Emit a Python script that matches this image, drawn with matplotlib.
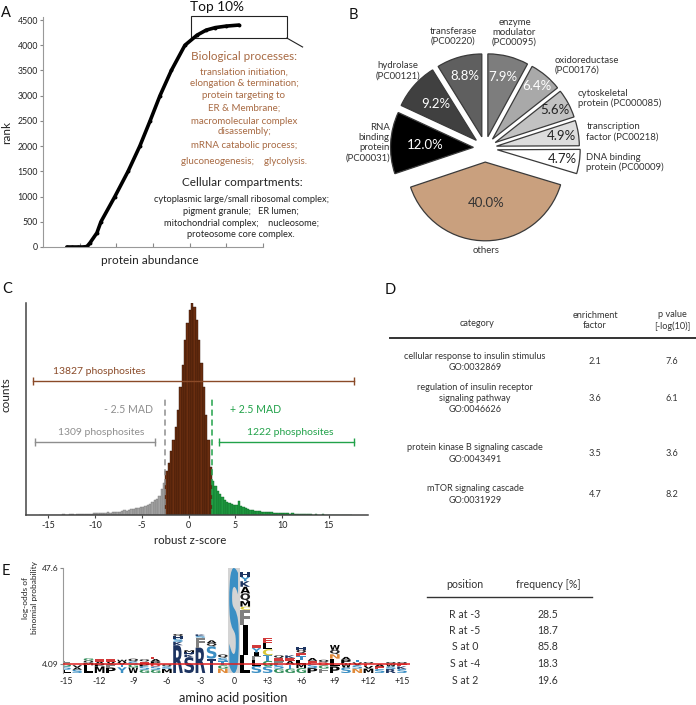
import matplotlib
matplotlib.use("Agg")
import matplotlib.pyplot as plt
import numpy as np
from matplotlib.textpath import TextPath
from matplotlib.patches import PathPatch, Rectangle
from matplotlib.font_manager import FontProperties
from matplotlib.transforms import Affine2D
from matplotlib.lines import Line2D

plt.rcParams['font.family'] = ['Lato', 'DejaVu Sans']
plt.rcParams['axes.unicode_minus'] = False

# ---------------- data ----------------
# A: rank vs protein abundance (arbitrary abundance units)
abund_rank = [0, 0, 0, 0, 10, 80, 280, 500, 1000, 1500, 2000, 2500, 3000, 3500, 4000, 4200, 4300, 4350, 4380, 4400]
abund_value = [0.65, 0.8, 0.95, 1.1, 1.2, 1.28, 1.47, 1.58, 1.96, 2.32, 2.64, 2.92, 3.19, 3.5, 3.87, 4.2, 4.45, 4.7, 5.0, 5.34]

bio_lines = ["translation initiation,", "elongation & termination;", "protein targeting to",
             "ER & Membrane;", "macromolecular complex", "disassembly;",
             "mRNA catabolic process;", "gluconeogenesis;    glycolysis."]
cell_lines = ["cytoplasmic large/small ribosomal complex;", "pigment granule;   ER lumen;",
              "mitochondrial complex;    nucleosome;", "proteosome core complex."]

# B: protein classes (clockwise from top)
pie_labels = ["enzyme\nmodulator\n(PC00095)", "oxidoreductase\n(PC00176)", "cytoskeletal\nprotein (PC000085)",
              "transcription\nfactor (PC00218)", "DNA binding\nprotein (PC00009)", "others",
              "RNA\nbinding\nprotein\n(PC00031)", "hydrolase\n(PC00121)", "transferase\n(PC00220)"]
pie_pct = [7.9, 6.4, 5.6, 4.9, 4.7, 40.0, 12.0, 9.2, 8.8]

# C: robust z-score histogram (bin width 0.25)
gray_start = -16.0
gray_counts = [5, 0, 5, 0, 5, 5, 0, 5, 5, 5, 10, 5, 5, 10, 10, 5, 10, 10, 10, 15, 10, 15, 15, 20,
               20, 20, 25, 20, 25, 30, 25, 30, 30, 35, 30, 40, 50, 45, 50, 60, 60, 70, 75, 80,
               85, 90, 100, 115, 135, 150, 165, 190, 260, 320]
brown_start = -2.5
brown_counts = [440, 520, 640, 750, 880, 1050, 1280, 1500, 1750, 1920, 2050, 2120, 2080, 1950,
                1750, 1520, 1280, 1000, 750, 480]
green_start = 2.5
green_counts = [340, 290, 240, 210, 180, 150, 130, 120, 110, 100, 100, 140, 90, 80, 70, 60, 55, 50,
                45, 40, 40, 35, 35, 30, 30, 30, 25, 25, 20, 25, 20, 20, 20, 15, 20, 15, 15, 10,
                15, 10, 10, 10, 10, 5, 10, 5, 5, 10, 5, 5, 5, 5, 5, 0, 5, 0, 5, 0, 5, 0]
bin_w = 0.25
mad_low, mad_high = -2.55, 2.5
all_range = (-16.7, 17.7)
low_range = (-16.4, -3.55)
high_range = (3.3, 17.7)

# D: GO enrichment table
go_terms = ["cellular response to insulin stimulus\nGO:0032869",
            "regulation of insulin receptor\nsignaling pathway\nGO:0046626",
            "protein kinase B signaling cascade\nGO:0043491",
            "mTOR signaling cascade\nGO:0031929"]
go_enrich = ["2.1", "3.6", "3.5", "4.7"]
go_pval = ["7.6", "6.1", "3.6", "8.2"]

# E: pLogo stacks, bottom to top (letters, heights)
logo_pos = list(range(-15, 16))
logo_letters = ["LSGF", "SAV", "LMQG", "MPAE", "PFVE", "YTVW", "WGSQ", "GSPEQ", "GSDPAE", "MSQ",
                "RKSHQ", "SKHM", "RFSK", "TSQA", "NGTSQ", "S",
                "LIFCMQAKYH", "SLFIYE", "SGTCLE", "GSFEQ", "GTAEK", "GMLTEQH", "PSEA", "FGDQ",
                "PLNQW", "SWPA", "NSVT", "MVEQ", "SEA", "RSWQ", "SKEQ"]
logo_heights = [[1.5, 1.5, 1.2, 1.3], [1.5, 1.0, 1.0], [3.5, 1.2, 1.0, 1.0], [3.0, 1.2, 1.0, 1.0],
                [2.5, 1.5, 1.2, 1.0], [2.6, 1.2, 1.2, 1.0], [2.5, 1.5, 1.2, 1.3],
                [1.5, 1.5, 1.2, 1.0, 1.0], [1.5, 1.5, 1.2, 1.1, 1.0, 1.0], [1.8, 1.2, 1.0],
                [12.6, 1.5, 1.4, 1.2, 1.0], [7.2, 1.2, 1.0, 0.9], [11.5, 4.5, 0.8, 0.7],
                [6.5, 5.6, 1.5, 1.2], [2.0, 1.5, 1.8, 1.6, 1.5], [47.6],
                [8.0, 13.6, 7.0, 1.5, 2.5, 3.5, 3.0, 2.5, 2.0, 2.0], [3.3, 2.7, 1.5, 1.8, 2.0, 1.4],
                [3.0, 2.5, 2.5, 2.8, 2.8, 2.3], [2.0, 1.8, 1.6, 1.4, 1.2], [2.0, 1.8, 1.6, 1.4, 1.2],
                [2.2, 2.0, 1.8, 1.6, 1.5, 1.4, 1.3], [2.2, 1.8, 1.5, 1.3], [2.0, 1.5, 1.3, 1.2],
                [3.0, 3.5, 2.0, 2.0, 2.2], [2.5, 2.0, 1.5, 1.3], [2.0, 1.5, 1.3, 1.2],
                [2.0, 1.2, 1.0, 0.8], [1.8, 1.2, 1.0], [1.8, 1.2, 1.0, 1.0], [1.8, 1.2, 1.0, 1.0]]
logo_ymax = 47.6
logo_threshold = 4.09
x_tick_pos = [-15, -12, -9, -6, -3, 0, 3, 6, 9, 12, 15]
x_tick_lab = ["-15", "-12", "-9", "-6", "-3", "0", "+3", "+6", "+9", "+12", "+15"]

motif_pos = ["R at -3", "R at -5", "S at 0", "S at -4", "S at 2"]
motif_freq = ["28.5", "18.7", "85.8", "18.3", "19.6"]

# ---------------- figure ----------------
W, H = 696, 705
fig = plt.figure(figsize=(W / 100, H / 100), dpi=100)


def px_axes(l, t, r, b):
    return fig.add_axes([l / W, 1 - b / H, (r - l) / W, (b - t) / H])


def ftext(x, y, s, **kw):
    kw.setdefault('ha', 'center')
    kw.setdefault('va', 'center')
    return fig.text(x / W, 1 - y / H, s, **kw)


def fline(x0, y0, x1, y1, **kw):
    fig.add_artist(Line2D([x0 / W, x1 / W], [1 - y0 / H, 1 - y1 / H], transform=fig.transFigure, **kw))


dark = '#333333'
brown_txt = '#a86a43'

# panel letters
for lab, x, y in [("A", 6, 13), ("B", 353, 15), ("C", 7, 289), ("D", 390, 290), ("E", 6, 571)]:
    ftext(x, y, lab, fontsize=10.5, color='#111111')

# ---- A ----
axA = px_axes(43, 17, 263, 247)
axA.plot(abund_value, abund_rank, color='black', lw=2.6, marker='o', ms=1.8, solid_capstyle='round')
axA.set_xlim(0, 6)
axA.set_ylim(0, 4560)
axA.set_yticks(np.arange(0, 4501, 500))
axA.set_xticks(range(1, 7))
axA.set_xticklabels([])
axA.tick_params(axis='y', labelsize=6.3, length=2, color='#888888', pad=1.5, labelcolor='#222222')
axA.tick_params(axis='x', direction='in', length=3, color='#888888')
for s in ['top', 'right']:
    axA.spines[s].set_visible(False)
for s in ['left', 'bottom']:
    axA.spines[s].set_color('#999999')
    axA.spines[s].set_linewidth(0.8)
axA.add_patch(Rectangle((4.03, 4143), 2.62, 437, fill=False, lw=0.8, edgecolor='#222222', clip_on=False))
axA.plot([6.65, 7.08], [4143, 3965], color='#222222', lw=0.8, clip_on=False)
ftext(217, 7, "Top 10%", fontsize=9.8, color='#111111')
ftext(7, 133, "rank", fontsize=8.5, rotation=90, color='#222222')
ftext(150, 260, "protein abundance", fontsize=8.5, color='#222222')

ftext(244, 57, "Biological processes:", fontsize=8.4, color=brown_txt)
for s, y in zip(bio_lines, [72, 83, 96, 108, 121, 132, 146, 161]):
    ftext(244, y, s, fontsize=7, color=brown_txt)
ftext(242, 183, "Cellular compartments:", fontsize=8.5, color='#222222')
for s, y in zip(cell_lines, [199, 211, 223, 235]):
    ftext(241, y, s, fontsize=6.7, color='#222222')

# ---- B ----
pie_colors = ['#7d7d7d', '#a9a9a9', '#c2c2c2', '#dddddd', '#ffffff', '#c9a07e', '#000000', '#404040', '#5f5f5f']
pie_explode = [0.14, 0.14, 0.14, 0.14, 0.15, 0.17, 0.14, 0.14, 0.14]
pct_r = [0.89, 0.98, 0.96, 0.94, 0.94, 0.66, 0.72, 0.8, 0.9]
pct_col = ['white', 'white', '#222222', '#222222', '#222222', '#333333', 'white', 'white', 'white']
lab_r = [1.44, 1.31, 1.27, 1.24, 1.23, 1.24, 1.15, 1.41, 1.40]
lab_ha = ['center', 'left', 'left', 'left', 'left', 'center', 'right', 'center', 'center']
axB = px_axes(369, 32, 601, 264)
wedges, _ = axB.pie(pie_pct, colors=pie_colors, explode=pie_explode, startangle=90, counterclock=False,
                    wedgeprops=dict(edgecolor='#3a3a3a', linewidth=0.9))
wedges[5].set_radius(0.95)
for w, p, r, c, lab, lr, ha in zip(wedges, pie_pct, pct_r, pct_col, pie_labels, lab_r, lab_ha):
    ang = np.deg2rad((w.theta1 + w.theta2) / 2)
    axB.text(r * np.cos(ang), r * np.sin(ang), "%.1f%%" % p, ha='center', va='center',
             fontsize=9.5, color=c)
    axB.text(lr * np.cos(ang), lr * np.sin(ang), lab, ha=ha, va='center', fontsize=6.9,
             color='#333333', multialignment=ha, linespacing=1.15)
axB.set_xlim(-1.4, 1.4)
axB.set_ylim(-1.4, 1.4)
axB.set_aspect('equal')
axB.axis('off')

# ---- C ----
axC = px_axes(26, 303, 368, 515)
for start, counts, fc, ec in [(gray_start, gray_counts, '#a3a3a3', '#7a7a7a'),
                              (brown_start, brown_counts, '#6b2e10', '#2e1306'),
                              (green_start, green_counts, '#1f9a40', '#0e6a28')]:
    lefts = start + bin_w * np.arange(len(counts))
    axC.bar(lefts, counts, width=bin_w, align='edge', color=fc, edgecolor=ec, linewidth=0.3)
axC.set_xlim(-17.4, 19.2)
axC.set_ylim(0, max(brown_counts))
axC.set_yticks([])
axC.set_xticks([-15, -10, -5, 0, 5, 10, 15])
axC.tick_params(axis='x', labelsize=6.5, length=2.5, pad=1.5, color='#444444', labelcolor='#222222')
for s in ['top', 'right']:
    axC.spines[s].set_visible(False)
for s in ['left', 'bottom']:
    axC.spines[s].set_color('#444444')
    axC.spines[s].set_linewidth(1.1)
tr = axC.get_xaxis_transform()
brown_l, gray_l, green_l = '#8a4a28', '#8e8e8e', '#22a24a'
axC.plot(all_range, [0.632, 0.632], color=brown_l, lw=1, marker='|', ms=6, mew=1, transform=tr, clip_on=False)
axC.plot(low_range, [0.344, 0.344], color=gray_l, lw=1, marker='|', ms=6, mew=1, transform=tr)
axC.plot(high_range, [0.344, 0.344], color=green_l, lw=1, marker='|', ms=6, mew=1, transform=tr, clip_on=False)
axC.plot([mad_low, mad_low], [0, 0.557], color=gray_l, lw=1.1, ls=(0, (4, 2.5)), transform=tr)
axC.plot([mad_high, mad_high], [0, 0.557], color=green_l, lw=1.1, ls=(0, (4, 2.5)), transform=tr)
axC.text(-14.5, 0.675, "13827 phosphosites", transform=tr, ha='left', va='center', fontsize=7.5, color=brown_l)
axC.text(-9.4, 0.387, "1309 phosphosites", transform=tr, ha='center', va='center', fontsize=7.5, color=gray_l)
axC.text(10.85, 0.387, "1222 phosphosites", transform=tr, ha='center', va='center', fontsize=7.5, color=green_l)
axC.text(-3.8, 0.5, "- 2.5 MAD", transform=tr, ha='right', va='center', fontsize=7.6, color=gray_l)
axC.text(4.4, 0.5, "+ 2.5 MAD", transform=tr, ha='left', va='center', fontsize=7.6, color=green_l)
ftext(6, 395, "counts", fontsize=8.5, rotation=90, color='#222222')
ftext(190, 540, "robust z-score", fontsize=8.3, color='#222222')

# ---- D ----
ftext(477, 323, "category", fontsize=6.6, color=dark)
ftext(595, 320.5, "enrichment\nfactor", fontsize=6.6, color=dark, linespacing=1.2)
ftext(672, 320.5, "p value\n[-log(10)]", fontsize=6.6, color=dark, linespacing=1.2)
fline(390, 338, 696, 338, color='#333333', lw=1.4)
for term, ef, pv, y in zip(go_terms, go_enrich, go_pval, [362, 398.5, 453.5, 494.5]):
    ftext(475, y, term, fontsize=6.6, color=dark, linespacing=1.3)
    ftext(595, y, ef, fontsize=6.6, color=dark)
    ftext(672, y, pv, fontsize=6.6, color=dark)

# ---- E ----
letter_color = {'R': '#1d3461', 'K': '#1d3461', 'H': '#1d3461',
                'S': '#3b8fc4', 'T': '#3b8fc4', 'Y': '#3b8fc4',
                'L': '#000000', 'I': '#000000', 'M': '#000000', 'V': '#000000', 'A': '#000000',
                'W': '#000000', 'P': '#000000', 'Q': '#222222',
                'F': '#808080', 'C': '#d8c838', 'N': '#e08a3a', 'G': '#2e8b57',
                'D': '#d23a3a', 'E': '#d23a3a'}
navy_override = {(-4, 'S'), (-2, 'T')}
narrow_letters = {'I': 0.45}
logo_font = FontProperties(family='DejaVu Sans', weight='bold')


def draw_letter(ax, ch, x, y0, h, color, w=0.86):
    tp = TextPath((0, 0), ch, size=1, prop=logo_font)
    bb = tp.get_extents()
    t = Affine2D().translate(-bb.x0, -bb.y0).scale(w / bb.width, h / bb.height).translate(x - w / 2, y0)
    ax.add_patch(PathPatch(t.transform_path(tp), facecolor=color, edgecolor='none', zorder=2))


axE = px_axes(63, 568, 410, 673)
axE.set_xlim(-15.27, 15.71)
axE.set_ylim(0, logo_ymax)
axE.add_patch(Rectangle((-0.5, 0), 1.0, logo_ymax, color='#d4d4d4', lw=0, zorder=1))
for p, letters, hs in zip(logo_pos, logo_letters, logo_heights):
    y = 0
    for ch, h in zip(letters, hs):
        col = '#1d3461' if (p, ch) in navy_override else letter_color[ch]
        draw_letter(axE, ch, p, y, h, col, w=narrow_letters.get(ch, 0.86))
        y += h
axE.axhline(logo_threshold, color='#e02020', lw=1.1, zorder=3)
axE.set_yticks([logo_threshold, logo_ymax])
axE.set_yticklabels(["4.09", "47.6"])
axE.set_xticks(x_tick_pos)
axE.set_xticklabels(x_tick_lab)
axE.tick_params(axis='y', labelsize=6, length=2, pad=1.5, color='#888888', labelcolor='#222222')
axE.tick_params(axis='x', labelsize=6.3, length=0, pad=3, labelcolor='#222222')
for s in ['top', 'right', 'bottom']:
    axE.spines[s].set_visible(False)
axE.spines['left'].set_color('#999999')
axE.spines['left'].set_linewidth(0.8)
ftext(30, 598, "log-odds of\nbinomial probability", fontsize=6, rotation=90, color='#222222', linespacing=1.2)
ftext(233, 698, "amino acid position", fontsize=9.2, color='#222222')

ftext(465, 585, "position", fontsize=7.6, color=dark)
ftext(548, 585, "frequency [%]", fontsize=7.6, color=dark)
fline(427, 597, 592, 597, color='#333333', lw=1.0)
for m, f, y in zip(motif_pos, motif_freq, [614, 630.5, 647, 663.5, 680]):
    ftext(465, y, m, fontsize=7.6, color=dark)
    ftext(548, y, f, fontsize=7.6, color=dark)

fig.savefig("out.png", dpi=100)
